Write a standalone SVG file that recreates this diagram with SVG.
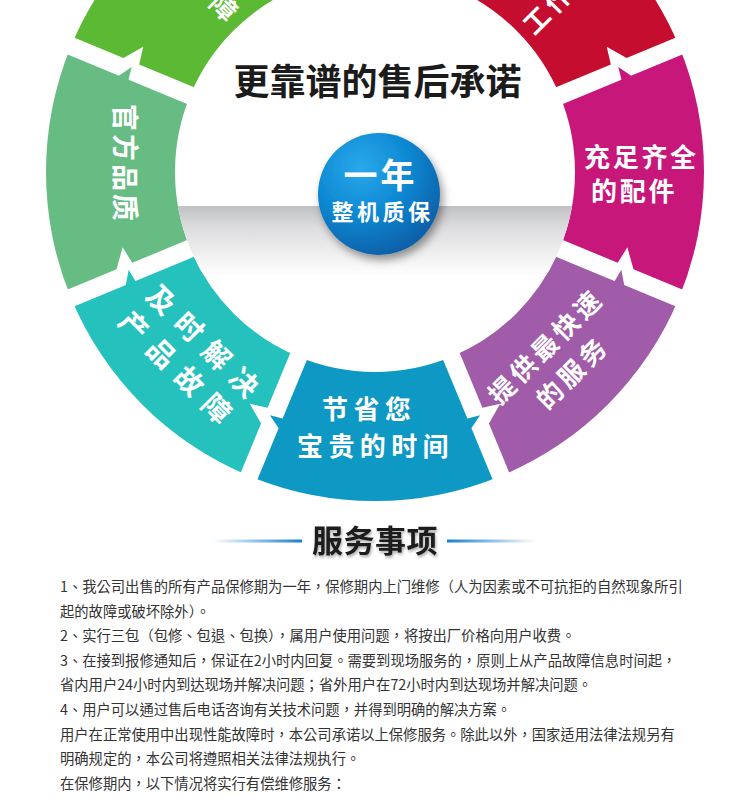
<svg xmlns="http://www.w3.org/2000/svg" width="750" height="800" viewBox="0 0 750 800">
<defs>
<style>
.st{font-family:"Noto Sans CJK SC","Noto Sans CJK TC",sans-serif;font-weight:700;fill:#fff}
.hd{font-family:"Noto Sans CJK SC","Noto Sans CJK TC",sans-serif;font-weight:700;fill:#1b1b1b}
.body{font-family:"Noto Sans CJK TC","Noto Sans CJK SC",sans-serif;font-size:14.3px;fill:#333}
.gap{fill:#fff}
</style>
<clipPath id="innerClip"><circle cx="375" cy="172" r="200"/></clipPath>
<linearGradient id="shelf" x1="0" y1="0" x2="0" y2="1">
<stop offset="0" stop-color="#c0c1c3"/>
<stop offset="0.3" stop-color="#dcdcde"/>
<stop offset="1" stop-color="#ffffff"/>
</linearGradient>
<radialGradient id="ball" cx="0.35" cy="0.28" r="0.8">
<stop offset="0" stop-color="#2aa9ec"/>
<stop offset="0.5" stop-color="#0d88d2"/>
<stop offset="1" stop-color="#0a5aa2"/>
</radialGradient>
<linearGradient id="lineL" x1="0" y1="0" x2="1" y2="0">
<stop offset="0" stop-color="#1a7fd0" stop-opacity="0"/>
<stop offset="1" stop-color="#1a7fd0"/>
</linearGradient>
<linearGradient id="lineR" x1="0" y1="0" x2="1" y2="0">
<stop offset="0" stop-color="#1a7fd0"/>
<stop offset="1" stop-color="#1a7fd0" stop-opacity="0"/>
</linearGradient>
<filter id="ballShadow" x="-30%" y="-30%" width="160%" height="160%">
<feDropShadow dx="3" dy="5" stdDeviation="4" flood-color="#000" flood-opacity="0.4"/>
</filter>
<filter id="txtShadow" x="-10%" y="-20%" width="120%" height="150%">
<feDropShadow dx="1" dy="2" stdDeviation="1.5" flood-color="#000" flood-opacity="0.35"/>
</filter>
<path id="gapShape" d="M195 9 L340 9 L340 -9 L276 -9 L262 -27 L259 -9 L195 -9 Z"/>
<path id="spike" d="M274 9.8 L265 -4 L263 9.8 Z"/>
</defs>

<rect x="0" y="0" width="750" height="800" fill="#fff"/>

<g id="node-topleft">
<path d="M249.10 -131.96 A329 329 0 0 0 71.04 46.10 L190.22 95.46 A200 200 0 0 1 298.46 -12.78 Z" fill="#5cb934"/>
<text class="st" font-size="26" text-anchor="middle" transform="translate(217 14) rotate(45)">障</text>
</g>

<g id="node-topright">
<path d="M678.96 46.10 A329 329 0 0 0 500.90 -131.96 L451.54 -12.78 A200 200 0 0 1 559.78 95.46 Z" fill="#c50e2f"/>
<text class="st" font-size="26" letter-spacing="4" transform="translate(534.3 36.2) rotate(-45)">工作</text>
</g>

<g id="node-left">
<path d="M71.04 46.10 A329 329 0 0 0 71.04 297.90 L190.22 248.54 A200 200 0 0 1 190.22 95.46 Z" fill="#67bc84"/>
<text class="st" font-size="27" letter-spacing="3" text-anchor="middle" transform="translate(114.7 164) rotate(90)">官方品质</text>
</g>

<g id="node-right">
<path d="M678.96 297.90 A329 329 0 0 0 678.96 46.10 L559.78 95.46 A200 200 0 0 1 559.78 248.54 Z" fill="#c8177b"/>
<text class="st" font-size="26" letter-spacing="2.7" x="584" y="166.5">充足齐全</text>
<text class="st" font-size="26" letter-spacing="2.7" x="591" y="200.5">的配件</text>
</g>

<g id="node-bottomleft">
<path d="M71.04 297.90 A329 329 0 0 0 249.10 475.96 L298.46 356.78 A200 200 0 0 1 190.22 248.54 Z" fill="#25c1bd"/>
<text class="st" font-size="28" letter-spacing="11" text-anchor="middle" transform="translate(199.4 352.4) rotate(45)">及时解决</text>
<text class="st" font-size="28" letter-spacing="11" text-anchor="middle" transform="translate(171.9 378.4) rotate(45)">产品故障</text>
</g>

<g id="node-bottom">
<path d="M249.10 475.96 A329 329 0 0 0 500.90 475.96 L451.54 356.78 A200 200 0 0 1 298.46 356.78 Z" fill="#0e98c4"/>
<text class="st" font-size="26" letter-spacing="5.4" x="322" y="418.5">节省您</text>
<text class="st" font-size="26" letter-spacing="5.4" x="297" y="456">宝贵的时间</text>
</g>

<g id="node-bottomright">
<path d="M500.90 475.96 A329 329 0 0 0 678.96 297.90 L559.78 248.54 A200 200 0 0 1 451.54 356.78 Z" fill="#a05ba9"/>
<text class="st" font-size="26" letter-spacing="4" text-anchor="middle" transform="translate(552.9 353.1) rotate(-45)">提供最快速</text>
<text class="st" font-size="26" letter-spacing="4" text-anchor="middle" transform="translate(579.4 379.1) rotate(-45)">的服务</text>
</g>

<g id="connectors">
<g transform="translate(375 172) rotate(-22.5)"><use href="#gapShape" class="gap"/><use href="#spike" fill="#c8177b"/></g>
<g transform="translate(375 172) rotate(22.5)"><use href="#gapShape" class="gap"/><use href="#spike" fill="#a05ba9"/></g>
<g transform="translate(375 172) rotate(67.5)"><use href="#gapShape" class="gap"/><use href="#spike" fill="#0e98c4"/></g>
<g transform="translate(375 172) rotate(112.5) scale(1 -1)"><use href="#gapShape" class="gap"/><use href="#spike" fill="#0e98c4"/></g>
<g transform="translate(375 172) rotate(157.5) scale(1 -1)"><use href="#gapShape" class="gap"/><use href="#spike" fill="#25c1bd"/></g>
<g transform="translate(375 172) rotate(-157.5) scale(1 -1)"><use href="#gapShape" class="gap"/><use href="#spike" fill="#67bc84"/></g>
</g>

<g id="shelf-band" clip-path="url(#innerClip)">
<rect x="170" y="206" width="410" height="70" fill="url(#shelf)"/>
</g>

<g id="title">
<text class="hd" font-size="36" text-anchor="middle" x="377.5" y="95">更靠谱的售后承诺</text>
</g>

<g id="node-center">
<circle cx="379" cy="194" r="61" fill="url(#ball)" filter="url(#ballShadow)"/>
<text class="st" font-size="34" letter-spacing="3" text-anchor="middle" x="380.5" y="188">一年</text>
<text class="st" font-size="22" letter-spacing="3.5" text-anchor="middle" x="382.5" y="220">整机质保</text>
</g>

<g id="section-heading">
<rect x="213" y="539.5" width="89" height="3" fill="url(#lineL)"/>
<rect x="447" y="539.5" width="89" height="3" fill="url(#lineR)"/>
<text class="hd" font-size="31" letter-spacing="0.5" x="312" y="552" filter="url(#txtShadow)">服务事项</text>
</g>

<g id="service-text">
<text class="body" x="60" y="592">1、我公司出售的所有产品保修期为一年，保修期内上门维修（人为因素或不可抗拒的自然现象所引</text>
<text class="body" x="60" y="616.6">起的故障或破坏除外）。</text>
<text class="body" x="60" y="641.2">2、实行三包（包修、包退、包换），属用户使用问题，将按出厂价格向用户收费。</text>
<text class="body" x="60" y="665.8">3、在接到报修通知后，保证在2小时内回复。需要到现场服务的，原则上从产品故障信息时间起，</text>
<text class="body" x="60" y="690.4">省内用户24小时内到达现场并解决问题；省外用户在72小时内到达现场并解决问题。</text>
<text class="body" x="60" y="715">4、用户可以通过售后电话咨询有关技术问题，并得到明确的解决方案。</text>
<text class="body" x="60" y="739.6">用户在正常使用中出现性能故障时，本公司承诺以上保修服务。除此以外，国家适用法律法规另有</text>
<text class="body" x="60" y="764.2">明确规定的，本公司将遵照相关法律法规执行。</text>
<text class="body" x="60" y="788.8">在保修期内，以下情况将实行有偿维修服务：</text>
</g>
</svg>
